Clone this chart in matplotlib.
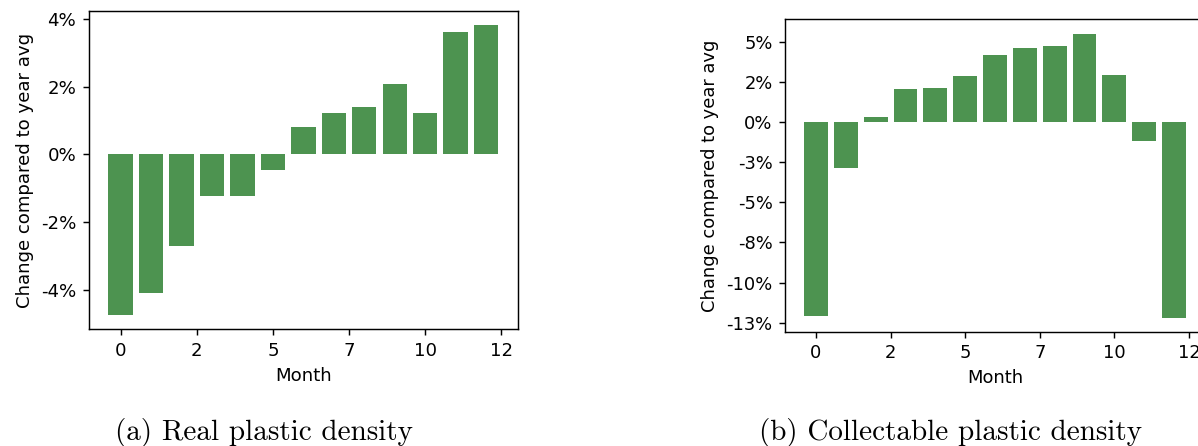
import matplotlib
matplotlib.use("Agg")
import matplotlib.pyplot as plt

months = list(range(13))
real_change = [-4.75, -4.11, -2.71, -1.24, -1.24, -0.47, 0.82, 1.23, 1.41, 2.08, 1.23, 3.62, 3.82]
collect_change = [-12.05, -2.86, 0.29, 2.03, 2.09, 2.84, 4.20, 4.58, 4.76, 5.51, 2.90, -1.18, -12.17]

x_ticks = [0, 2.5, 5, 7.5, 10, 12.5]
x_labels = ["0", "2", "5", "7", "10", "12"]
real_yticks = [-4, -2, 0, 2, 4]
real_ylabels = ["-4%", "-2%", "0%", "2%", "4%"]
collect_yticks = [-12.5, -10, -7.5, -5, -2.5, 0, 2.5, 5]
collect_ylabels = ["-13%", "-10%", "-8%", "-5%", "-3%", "0%", "2%", "5%"]

captions = ["(a) Real plastic density", "(b) Collectable plastic density"]
bar_color = "#4d9350"

fig = plt.figure(figsize=(11.98, 4.46), dpi=100)


def draw(rect, values, yticks, ylabels, s):
    ax = fig.add_axes(rect)
    ax.bar(months, values, width=0.8, color=bar_color)
    ax.set_xticks(x_ticks)
    ax.set_xticklabels(x_labels)
    ax.set_yticks(yticks)
    ax.set_yticklabels(ylabels)
    ax.tick_params(labelsize=10 * s, length=3.5 * s, width=0.8 * s, pad=3.5 * s)
    for sp in ax.spines.values():
        sp.set_linewidth(0.8 * s)
    ax.set_xlabel("Month", fontsize=10 * s, labelpad=4 * s)
    ax.set_ylabel("Change compared to year avg", fontsize=10 * s, labelpad=4 * s)
    return ax


draw([89 / 1198, 1 - 329.3 / 446, 428.7 / 1198, 318.3 / 446],
     real_change, real_yticks, real_ylabels, 1.31)
draw([785 / 1198, 1 - 331.7 / 446, 420 / 1198, 312.4 / 446],
     collect_change, collect_yticks, collect_ylabels, 1.284)

# captions under each panel (LaTeX-like serif)
fig.text(264 / 1198, 1 - 440 / 446, captions[0], family="cmr10", fontsize=21,
         ha="center", va="baseline")
fig.text(950 / 1198, 1 - 440 / 446, captions[1], family="cmr10", fontsize=21,
         ha="center", va="baseline")

fig.savefig("out.png", dpi=100)
